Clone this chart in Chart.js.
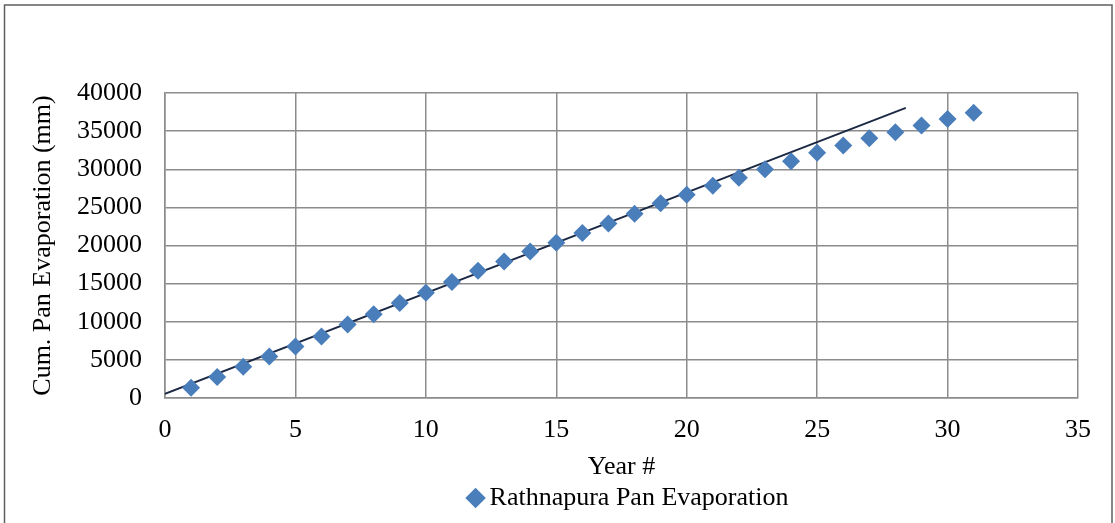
<!DOCTYPE html>
<html lang="en">
<head>
    <meta charset="UTF-8">
    <title>Rathnapura Pan Evaporation</title>
    <script src="https://cdn.jsdelivr.net/npm/chart.js@4.4.0/dist/chart.umd.min.js"></script>
    <style>
        body {
            margin: 0;
            background: white;
        }
        .chart-box {
            width: 1115px;
            height: 523px;
        }
    </style>
</head>
<body>
    <div class="chart-box">
        <canvas id="evapChart" width="1115" height="523"></canvas>
    </div>

    <script>
        // observed cumulative pan evaporation (mm) by year
        const years = [1, 2, 3, 4, 5, 6, 7, 8, 9, 10, 11, 12, 13, 14, 15, 16,
            17, 18, 19, 20, 21, 22, 23, 24, 25, 26, 27, 28, 29, 30, 31];
        const cumEvap = [1350, 2750, 4100, 5450, 6750, 8050, 9650, 11000, 12450, 13800,
            15200, 16700, 17900, 19200, 20350, 21650, 22900, 24150, 25550, 26650,
            27850, 28900, 30000, 31050, 32150, 33100, 34050, 34850, 35750, 36600, 37400];

        // straight trend line drawn over the points
        const trendX = [0, 28.4];
        const trendY = [550, 38050];

        const xTicks = [0, 5, 10, 15, 20, 25, 30, 35];
        const yTicks = [0, 5000, 10000, 15000, 20000, 25000, 30000, 35000, 40000];

        const serif = 'Liberation Serif';

        // grey frame round the whole chart
        const frame = {
            id: 'frame',
            beforeDraw(chart) {
                const ctx = chart.ctx;
                ctx.save();
                ctx.fillStyle = '#ffffff';
                ctx.fillRect(0, 0, chart.width, chart.height);
                ctx.strokeStyle = '#5f5f5f';
                ctx.lineWidth = 1.5;
                ctx.strokeRect(4.5, 5, 1107.5, 560);
                ctx.restore();
            }
        };

        // centre the legend under the plot area (nudged right a little)
        const legendUnderPlot = {
            id: 'legendUnderPlot',
            afterLayout(chart) {
                const lg = chart.legend;
                if (!lg) return;
                lg.left = chart.chartArea.left + 10;
                lg.right = chart.chartArea.right + 10;
                lg.width = lg.right - lg.left;
            }
        };

        new Chart(document.getElementById('evapChart'), {
            type: 'scatter',
            data: {
                datasets: [{
                    label: 'Rathnapura Pan Evaporation',
                    data: years.map((y, i) => ({ x: y, y: cumEvap[i] })),
                    pointStyle: 'rectRot',
                    pointRadius: 9,
                    backgroundColor: '#4a7ebb',
                    borderColor: '#4a7ebb',
                    borderWidth: 0
                }, {
                    label: 'trend',
                    type: 'line',
                    data: trendX.map((x, i) => ({ x: x, y: trendY[i] })),
                    borderColor: '#1b2844',
                    borderWidth: 1.8,
                    pointRadius: 0,
                    fill: false
                }]
            },
            options: {
                responsive: false,
                animation: false,
                layout: {
                    padding: { top: 93, left: 28, right: 37, bottom: 2 }
                },
                plugins: {
                    legend: {
                        position: 'bottom',
                        labels: {
                            filter: item => item.text !== 'trend',
                            usePointStyle: true,
                            pointStyle: 'rectRot',
                            boxWidth: 2,
                            boxHeight: 14.5,
                            padding: 8,
                            color: '#000',
                            font: { family: serif, size: 26 }
                        }
                    },
                    tooltip: { enabled: false }
                },
                scales: {
                    x: {
                        type: 'linear',
                        min: 0,
                        max: 35,
                        afterBuildTicks: scale => { scale.ticks = xTicks.map(v => ({ value: v })); },
                        afterFit: scale => { scale.height = 79; },
                        grid: { color: '#8c8c8c', lineWidth: 1.5, drawTicks: false },
                        border: { color: '#8c8c8c', width: 1.5 },
                        ticks: {
                            padding: 17,
                            color: '#000',
                            callback: v => String(v),
                            font: { family: serif, size: 26 }
                        },
                        title: {
                            display: true,
                            text: 'Year #',
                            color: '#000',
                            padding: { top: 0, bottom: -6 },
                            font: { family: serif, size: 26 }
                        }
                    },
                    y: {
                        type: 'linear',
                        min: 0,
                        max: 40000,
                        afterBuildTicks: scale => { scale.ticks = yTicks.map(v => ({ value: v })); },
                        afterFit: scale => { scale.width = 137; },
                        grid: { color: '#8c8c8c', lineWidth: 1.5, drawTicks: false },
                        border: { color: '#8c8c8c', width: 1.5 },
                        ticks: {
                            padding: 23,
                            color: '#000',
                            callback: v => String(v),
                            font: { family: serif, size: 26 }
                        },
                        title: {
                            display: true,
                            text: 'Cum. Pan Evaporation (mm)',
                            color: '#000',
                            padding: { top: 0, bottom: 4 },
                            font: { family: serif, size: 26 }
                        }
                    }
                }
            },
            plugins: [frame, legendUnderPlot]
        });
    </script>
</body>
</html>
